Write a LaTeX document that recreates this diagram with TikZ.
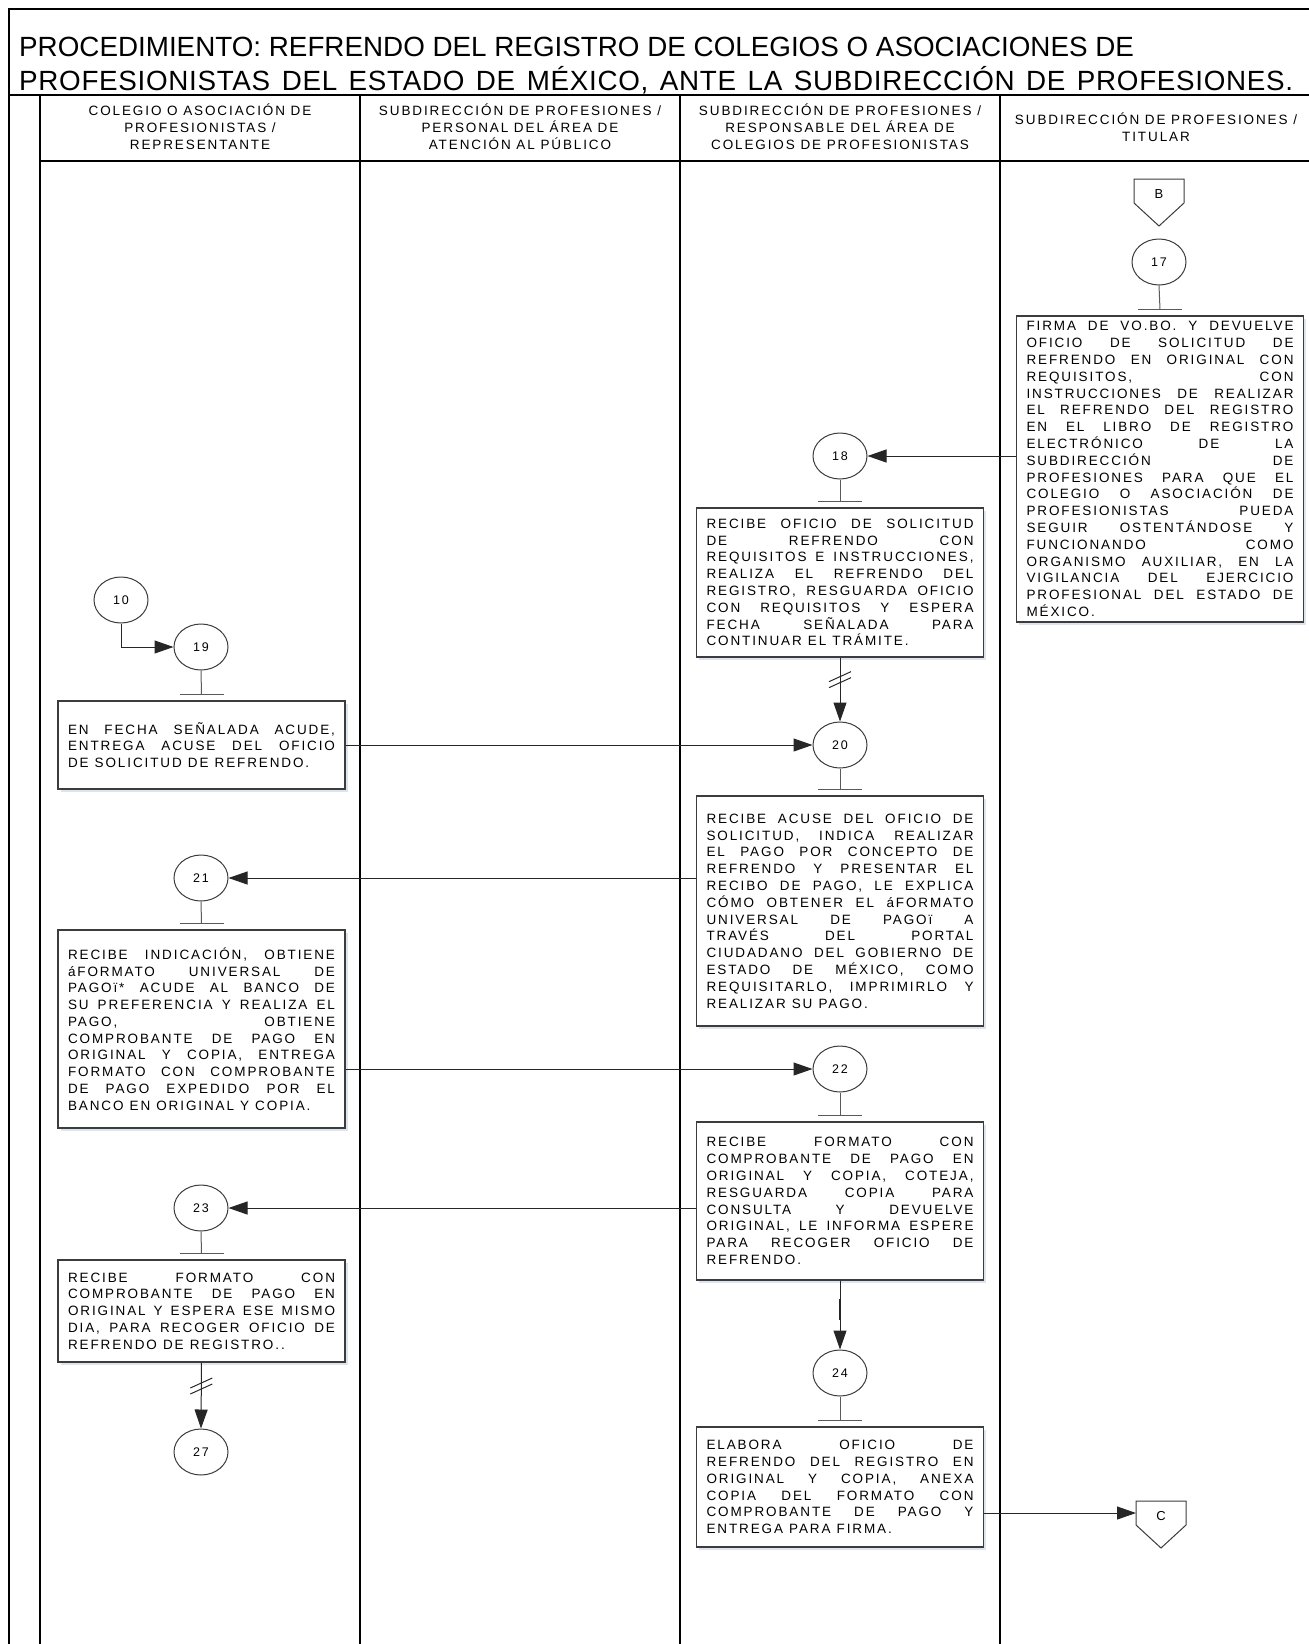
\documentclass[tikz,border=0pt]{standalone}
\usepackage{fontspec}
\setmainfont{Liberation Sans}
\newfontfamily\boxfont[LetterSpace=14]{Liberation Sans}
\newfontfamily\titlefont[LetterSpace=2.5]{Liberation Sans}
\usetikzlibrary{arrows.meta,calc,shapes.geometric,shadows}

\definecolor{boxline}{HTML}{3C3C3C}
\definecolor{wire}{HTML}{262626}
\definecolor{stemgray}{HTML}{5A5A5A}
\definecolor{halo}{HTML}{DCE4F0}

% one justified line, and a final (left aligned) line of a step text
\newcommand\fullline[1]{\hbox to\linewidth{\spaceskip=0.2em plus 1fil\relax #1}}
\newcommand\lastline[1]{\hbox to\linewidth{\spaceskip=0.45em\relax #1\hfil}}

\tikzset{
  lane/.style={line width=1.6pt, draw=black},
  stepbox/.style={draw=boxline, line width=1.1pt, fill=white, text width=267pt,
    inner xsep=10pt, inner ysep=3pt,
    font=\boxfont\fontsize{13.5}{16.8}\selectfont,
    drop shadow={shadow xshift=2.5pt, shadow yshift=-2.5pt, fill=halo, opacity=1, draw=none}},
  stepcirc/.style={ellipse, draw=boxline, line width=1pt, fill=white,
    minimum width=54pt, minimum height=46pt, inner sep=0pt,
    font=\boxfont\fontsize{12.5}{14}\selectfont},
  arr/.style={draw=wire, line width=1pt, -{Triangle[length=19pt,width=13pt]}},
  stem/.style={draw=stemgray, line width=1pt},
  head/.style={align=center, inner sep=0pt, font=\boxfont\fontsize{13.5}{16.8}\selectfont},
  offpage/.style={inner sep=0pt, font=\boxfont\fontsize{13}{15}\selectfont},
  pent/.style={draw=boxline, line width=1pt, fill=white},
  brk/.style={draw=wire, line width=1pt}
}

% stem from a circle down to the short bar above its box
\newcommand\tbar[2]{%
  \coordinate (#1bar) at ($(#2.north)+(0,-6)$);
  \draw[stem] (#1.south) -- (#1bar);
  \draw[stem] ($(#1bar)+(-22,0)$) -- ($(#1bar)+(22,0)$);}

% off-page connector outline (pentagon pointing down) around a point
\newcommand\pentagon[1]{%
  \draw[pent] ($(#1)+(-25,-15)$) -- ($(#1)+(25,-15)$) -- ($(#1)+(25,9)$)
    -- ($(#1)+(0,32)$) -- ($(#1)+(-25,9)$) -- cycle;}

% double slash break mark on a vertical connector
\newcommand\breakmark[1]{%
  \draw[brk] ($(#1)+(-11,3)$) -- ($(#1)+(11,-7)$);
  \draw[brk] ($(#1)+(-11,9)$) -- ($(#1)+(11,-1)$);}

\begin{document}
\begin{tikzpicture}[x=1pt,y=-1pt]
\useasboundingbox (0,0) rectangle (1309,1644);

% frame and swimlanes
\draw[lane] (9,1660) -- (9,9) -- (1320,9);
\draw[lane] (9,95) -- (1320,95);
\draw[lane] (40,161) -- (1320,161);
\foreach \x in {40,360,680,1000} \draw[lane] (\x,95) -- (\x,1660);

% title
\node[anchor=base west, inner sep=0pt, font=\fontsize{27.8}{33}\selectfont] (title1) at (19,56)
  {PROCEDIMIENTO: REFRENDO DEL REGISTRO DE COLEGIOS O ASOCIACIONES DE};
\node[anchor=base west, inner sep=0pt, font=\titlefont\fontsize{27.8}{33}\selectfont] (title2) at (19,90)
  {\hbox to 1274pt{PROFESIONISTAS DEL ESTADO DE MÉXICO, ANTE LA SUBDIRECCIÓN DE PROFESIONES.}};

% lane headers
\node[head] (h1) at (200,127) {COLEGIO O ASOCIACIÓN DE\\PROFESIONISTAS /\\REPRESENTANTE};
\node[head] (h2) at (520,127) {SUBDIRECCIÓN DE PROFESIONES /\\PERSONAL DEL ÁREA DE\\ATENCIÓN AL PÚBLICO};
\node[head] (h3) at (840,127) {SUBDIRECCIÓN DE PROFESIONES /\\RESPONSABLE DEL ÁREA DE\\COLEGIOS DE PROFESIONISTAS};
\node[head] (h4) at (1156,127) {SUBDIRECCIÓN DE PROFESIONES /\\TITULAR};

% off-page connectors
\coordinate (pB) at (1159,194);
\pentagon{pB}
\node[offpage] (offB) at (pB) {B};
\coordinate (pC) at (1161,1516);
\pentagon{pC}
\node[offpage] (offC) at (pC) {C};
\coordinate (offCin) at ($(offC)+(-25,-3)$);

% step circles
\node[stepcirc] (c17) at (1159,262) {17};
\node[stepcirc] (c18) at (840,456) {18};
\node[stepcirc] (c10) at (121,600) {10};
\node[stepcirc] (c19) at (201,647) {19};
\node[stepcirc] (c20) at (840,745) {20};
\node[stepcirc] (c21) at (201,878) {21};
\node[stepcirc] (c22) at (840,1069) {22};
\node[stepcirc] (c23) at (201,1208) {23};
\node[stepcirc] (c24) at (840,1373) {24};
\node[stepcirc] (c27) at (201,1452) {27};

% step boxes
\node[stepbox, minimum height=306pt] (b17) at (1160,469) {%
\fullline{FIRMA DE VO.BO. Y DEVUELVE}
\fullline{OFICIO DE SOLICITUD DE}
\fullline{REFRENDO EN ORIGINAL CON}
\fullline{REQUISITOS, CON}
\fullline{INSTRUCCIONES DE REALIZAR}
\fullline{EL REFRENDO DEL REGISTRO}
\fullline{EN EL LIBRO DE REGISTRO}
\fullline{ELECTRÓNICO DE LA}
\fullline{SUBDIRECCIÓN DE}
\fullline{PROFESIONES PARA QUE EL}
\fullline{COLEGIO O ASOCIACIÓN DE}
\fullline{PROFESIONISTAS PUEDA}
\fullline{SEGUIR OSTENTÁNDOSE Y}
\fullline{FUNCIONANDO COMO}
\fullline{ORGANISMO AUXILIAR, EN LA}
\fullline{VIGILANCIA DEL EJERCICIO}
\fullline{PROFESIONAL DEL ESTADO DE}
\lastline{MÉXICO.}};

\node[stepbox, minimum height=149pt] (b18) at (840,582.5) {%
\fullline{RECIBE OFICIO DE SOLICITUD}
\fullline{DE REFRENDO CON}
\fullline{REQUISITOS E INSTRUCCIONES,}
\fullline{REALIZA EL REFRENDO DEL}
\fullline{REGISTRO, RESGUARDA OFICIO}
\fullline{CON REQUISITOS Y ESPERA}
\fullline{FECHA SEÑALADA PARA}
\lastline{CONTINUAR EL TRÁMITE.}};

\node[stepbox, minimum height=88pt] (b19) at (201.5,745) {%
\fullline{EN FECHA SEÑALADA ACUDE,}
\fullline{ENTREGA ACUSE DEL OFICIO}
\lastline{DE SOLICITUD DE REFRENDO.}};

\node[stepbox, minimum height=230pt] (b20) at (840,911) {%
\fullline{RECIBE ACUSE DEL OFICIO DE}
\fullline{SOLICITUD, INDICA REALIZAR}
\fullline{EL PAGO POR CONCEPTO DE}
\fullline{REFRENDO Y PRESENTAR EL}
\fullline{RECIBO DE PAGO, LE EXPLICA}
\fullline{CÓMO OBTENER EL áFORMATO}
\fullline{UNIVERSAL DE PAGOï A}
\fullline{TRAVÉS DEL PORTAL}
\fullline{CIUDADANO DEL GOBIERNO DE}
\fullline{ESTADO DE MÉXICO, COMO}
\fullline{REQUISITARLO, IMPRIMIRLO Y}
\lastline{REALIZAR SU PAGO.}};

\node[stepbox, minimum height=198pt] (b21) at (201.5,1029) {%
\fullline{RECIBE INDICACIÓN, OBTIENE}
\fullline{áFORMATO UNIVERSAL DE}
\fullline{PAGOï* ACUDE AL BANCO DE}
\fullline{SU PREFERENCIA Y REALIZA EL}
\fullline{PAGO, OBTIENE}
\fullline{COMPROBANTE DE PAGO EN}
\fullline{ORIGINAL Y COPIA, ENTREGA}
\fullline{FORMATO CON COMPROBANTE}
\fullline{DE PAGO EXPEDIDO POR EL}
\lastline{BANCO EN ORIGINAL Y COPIA.}};

\node[stepbox, minimum height=158pt] (b22) at (840,1201) {%
\fullline{RECIBE FORMATO CON}
\fullline{COMPROBANTE DE PAGO EN}
\fullline{ORIGINAL Y COPIA, COTEJA,}
\fullline{RESGUARDA COPIA PARA}
\fullline{CONSULTA Y DEVUELVE}
\fullline{ORIGINAL, LE INFORMA ESPERE}
\fullline{PARA RECOGER OFICIO DE}
\lastline{REFRENDO.}};

\node[stepbox, minimum height=102pt] (b23) at (201.5,1311) {%
\fullline{RECIBE FORMATO CON}
\fullline{COMPROBANTE DE PAGO EN}
\fullline{ORIGINAL Y ESPERA ESE MISMO}
\fullline{DIA, PARA RECOGER OFICIO DE}
\lastline{REFRENDO DE REGISTRO..}};

\node[stepbox, minimum height=120pt] (b24) at (840,1487) {%
\fullline{ELABORA OFICIO DE}
\fullline{REFRENDO DEL REGISTRO EN}
\fullline{ORIGINAL Y COPIA, ANEXA}
\fullline{COPIA DEL FORMATO CON}
\fullline{COMPROBANTE DE PAGO Y}
\lastline{ENTREGA PARA FIRMA.}};

% circle-to-box stems
\tbar{c17}{b17}
\tbar{c18}{b18}
\tbar{c19}{b19}
\tbar{c20}{b20}
\tbar{c21}{b21}
\tbar{c22}{b22}
\tbar{c23}{b23}
\tbar{c24}{b24}

% flow connectors
\draw[arr] (c18 -| b17.west) -- (c18.east);
\draw[arr] (c10.south) |- (c19.west);
\draw[arr] (b18.south) -- (c20.north) coordinate[pos=0.33] (k18);
\breakmark{k18}
\draw[arr] (c20 -| b19.east) -- (c20.west);
\draw[arr] (c21 -| b20.west) -- (c21.east);
\draw[arr] (c22 -| b21.east) -- (c22.west);
\draw[arr] (c23 -| b22.west) -- (c23.east);
\draw[arr] (b22.south) -- (c24.north) coordinate[pos=0.27] (k22a) coordinate[pos=0.57] (k22b);
\draw[wire, line width=2.6pt] (k22a) -- (k22b);
\draw[arr] (b23.south) -- (c27.north) coordinate[pos=0.34] (k23);
\breakmark{k23}
\draw[arr] (offCin -| b24.east) -- (offCin);
\end{tikzpicture}
\end{document}
